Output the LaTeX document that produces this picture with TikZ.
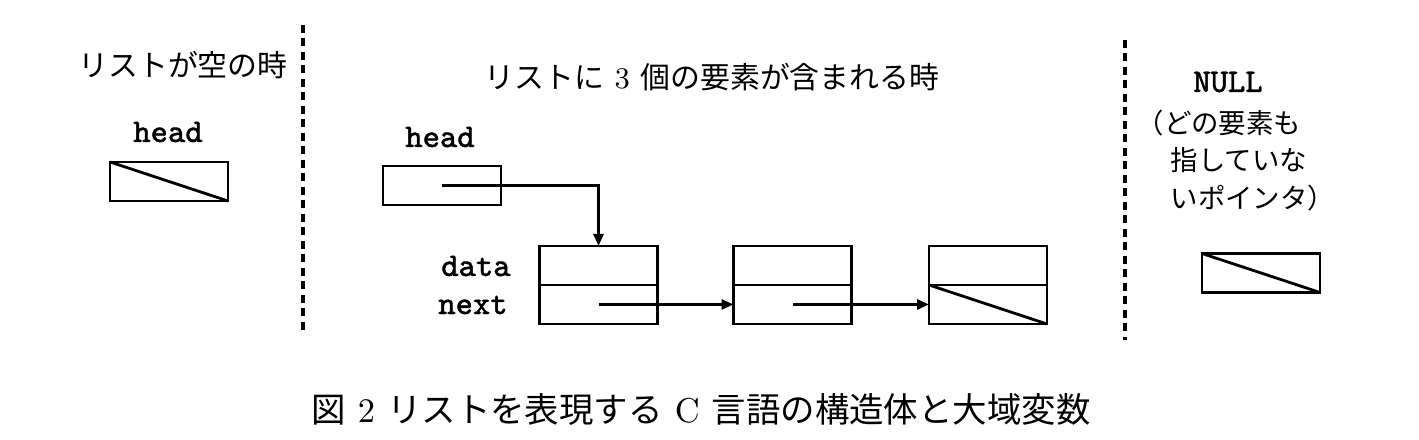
\documentclass[tikz,border=0pt]{standalone}
\usepackage{fontspec}
\setmonofont[FakeBold=1.2]{Latin Modern Mono}
\newfontfamily\jp{Noto Sans CJK JP}
\usepackage{tikz}
\usetikzlibrary{arrows.meta}
\newcommand{\gap}{\hspace{0.35em}}
\tikzset{
    cell/.style={draw,thick,minimum width=1.18cm,minimum height=0.39cm,inner sep=0pt,outer sep=0pt},
    jtext/.style={font=\jp\fontsize{8.5}{10}\selectfont,inner sep=0pt},
    code/.style={font=\ttfamily\fontsize{9.4}{10}\selectfont,inner sep=0pt},
    link/.style={thick,-{Triangle[length=1.2mm,width=1mm]}},
    sep/.style={line width=1pt,dash pattern=on 0.8mm off 0.55mm}
}

\begin{document}
\begin{tikzpicture}
    \useasboundingbox (0,0) rectangle (14.19,4.40);
    % empty list
    \node[jtext] (t1) at (1.83,3.75) {リストが空の時};
    \node[code] (hl1) at (1.68,3.08) {head};
    \node[cell] (e) at (1.69,2.585) {};
    \draw[thick] (e.north west) -- (e.south east);
    \coordinate (s1a) at (3.03,4.15);
    \coordinate (s1b) at (3.03,1.10);
    \draw[sep] (s1a) -- (s1b);
    % list with three elements
    \node[jtext] (t2) at (7.12,3.63) {リストに\gap{\rmfamily 3}\gap 個の要素が含まれる時};
    \node[code] (hl2) at (4.40,3.03) {head};
    \node[cell] (h) at (4.42,2.545) {};
    \node[code] (dl) at (4.76,1.74) {data};
    \node[code] (nl) at (4.73,1.35) {next};
    \foreach \i/\x in {1/5.985,2/7.925,3/9.88}{
        \node[cell] (d\i) at (\x,1.745) {};
        \node[cell,anchor=north] (n\i) at (d\i.south) {};
    }
    \draw[thick] (n3.north west) -- (n3.south east);
    \draw[link] (h.center) -| (d1.north);
    \draw[link] (n1.center) -- (n2.west);
    \draw[link] (n2.center) -- (n3.west);
    \coordinate (s2a) at (11.25,4.00);
    \coordinate (s2b) at (11.25,1.00);
    \draw[sep] (s2a) -- (s2b);
    % null pointer
    \node[code] (nu) at (12.28,3.58) {NULL};
    \node[jtext,anchor=west,font=\jp\fontsize{7.8}{10}\selectfont] (m1) at (11.36,3.17) {（どの要素も};
    \node[jtext,anchor=west,font=\jp\fontsize{7.8}{10}\selectfont] (m2) at (11.70,2.80) {指していな};
    \node[jtext,anchor=west,font=\jp\fontsize{7.8}{10}\selectfont] (m3) at (11.70,2.42) {いポインタ）};
    \node[cell] (z) at (12.61,1.67) {};
    \draw[thick] (z.north west) -- (z.south east);
    % caption
    \node[jtext,font=\jp\fontsize{9.8}{11}\selectfont] (cap) at (7.01,0.30) {図\gap{\rmfamily 2}\gap リストを表現する\gap{\rmfamily C}\gap 言語の構造体と大域変数};
\end{tikzpicture}
\end{document}
